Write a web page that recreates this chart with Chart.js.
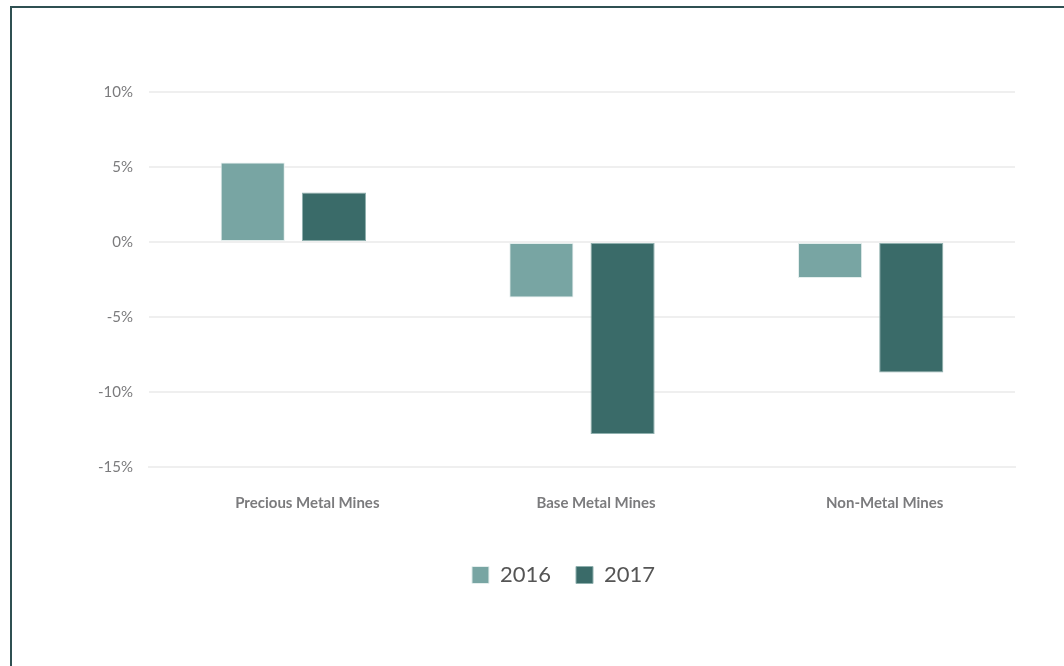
<!DOCTYPE html>
<html>
<head>
<meta charset="utf-8">
<script src="https://cdn.jsdelivr.net/npm/chart.js@4/dist/chart.umd.min.js"></script>
<style>
  html, body { margin: 0; padding: 0; background: #fff; }
  .frame {
    position: absolute;
    left: 10px; top: 6px; right: 0; bottom: 0;
    border-left: 2px solid #2f5052;
    border-top: 2px solid #2f5052;
  }
  .frame canvas { display: block; }
</style>
</head>
<body>
<div class="frame">
  <canvas id="mines"></canvas>
</div>
<script>
const categories = ['Precious Metal Mines', 'Base Metal Mines', 'Non-Metal Mines'];
const values2016 = [5.3, -3.7, -2.4];
const values2017 = [3.3, -12.8, -8.7];
const yTicks = [10, 5, 0, -5, -10, -15];

const frame = document.querySelector('.frame');
const canvas = document.getElementById('mines');
canvas.width = frame.clientWidth;
canvas.height = frame.clientHeight;

// the original legend sits a little right of the plot centre
const nudgeLegend = {
  id: 'nudgeLegend',
  afterLayout(chart) {
    chart.legend.left += 15;
    chart.legend.right += 15;
  }
};

new Chart(canvas.getContext('2d'), {
  type: 'bar',
  data: {
    labels: categories,
    datasets: [
      {
        label: '2016',
        data: values2016,
        backgroundColor: '#78a5a3',
        borderColor: '#e4eeed',
        borderWidth: 1,
        borderSkipped: false
      },
      {
        label: '2017',
        data: values2017,
        backgroundColor: '#3a6b69',
        borderColor: '#8fb0ae',
        borderWidth: 1,
        borderSkipped: false
      }
    ]
  },
  plugins: [nudgeLegend],
  options: {
    responsive: false,
    animation: false,
    barPercentage: 0.79,
    categoryPercentage: 0.5625,
    layout: { padding: { left: 70, right: 49, top: 84, bottom: 70 } },
    plugins: {
      tooltip: { enabled: false },
      legend: {
        position: 'bottom',
        labels: {
          boxWidth: 17,
          boxHeight: 17,
          padding: 25,
          color: '#555',
          font: { family: 'Lato', size: 22 }
        }
      }
    },
    scales: {
      x: {
        grid: { display: false, drawTicks: false },
        border: { color: '#efefef', width: 2 },
        ticks: {
          padding: 27,
          labelOffset: 14,
          color: '#7b7b7d',
          font: { family: 'Lato', size: 15, weight: 'bold' }
        }
      },
      y: {
        min: -15,
        max: 10,
        afterBuildTicks: axis => { axis.ticks = yTicks.map(v => ({ value: v })); },
        grid: { color: '#efefef', lineWidth: 2, drawTicks: false },
        border: { display: false },
        ticks: {
          padding: 16,
          color: '#7b7b7d',
          font: { family: 'Lato', size: 15 },
          callback: v => v + '%'
        }
      }
    }
  }
});
</script>
</body>
</html>
